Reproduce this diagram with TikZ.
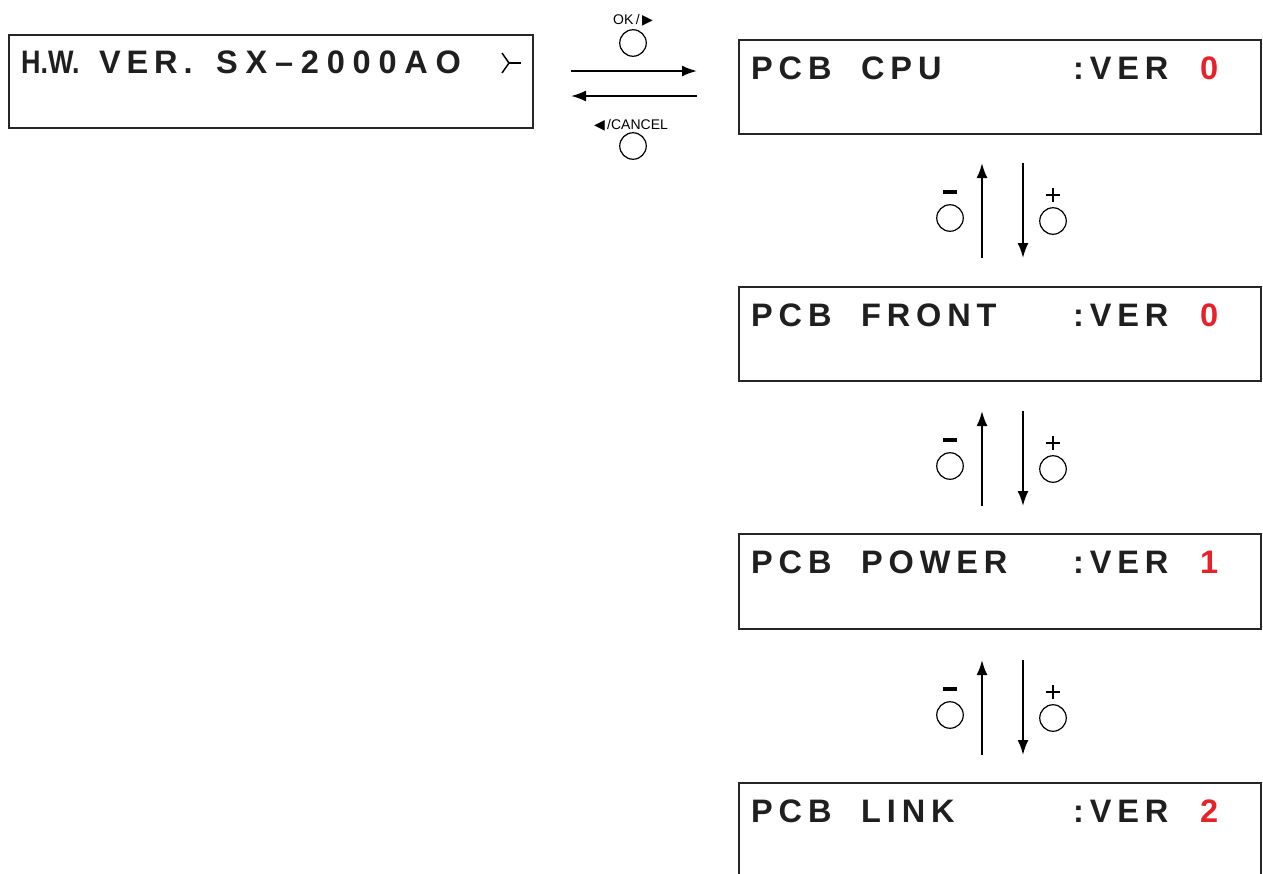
\documentclass[tikz,border=0pt]{standalone}
\usepackage{fontspec}
\setmainfont{Liberation Sans}
\newfontfamily\lcdfam[LetterSpace=18]{Liberation Sans}
\newfontfamily\lcdwide[LetterSpace=24]{Liberation Sans}
\newfontfamily\symfam{DejaVu Sans}
\usetikzlibrary{arrows.meta}
\definecolor{vred}{RGB}{232,32,42}
\tikzset{
  lcdbox/.style={draw, line width=1.8pt, draw=black!85},
  lcdtxt/.style={anchor=base west, inner sep=0pt, font=\lcdfam\bfseries\fontsize{32.5}{32.5}\selectfont, text=black!88},
  lcdnum/.style={lcdtxt, text=vred},
  btn/.style={draw, circle, line width=1.2pt, minimum size=26.5pt, inner sep=0pt},
  btnlbl/.style={inner sep=0pt, font=\fontsize{14}{14}\selectfont},
  navarrow/.style={line width=2pt, -{Latex[length=15pt,width=11pt]}},
  minusbar/.style={line width=3.2pt},
  plussign/.style={line width=1.6pt}
}
\begin{document}
\begin{tikzpicture}[x=1pt,y=-1pt]
\useasboundingbox (0,0) rectangle (1263,873);
% H.W. box
\draw[lcdbox] (9,35) rectangle (533,128);
\node[lcdtxt, font=\bfseries\fontsize{32.5}{32.5}\selectfont] (hw1) at (21,73) {\scalebox{0.83}[1]{H.W.}};
\node[lcdtxt] (hw2) at (99,73) {VER.};
\node[lcdtxt, font=\lcdwide\bfseries\fontsize{32.5}{32.5}\selectfont] (hw3) at (216,73) {SX–2000AO};
\coordinate (gt) at (509,63);
\draw[line width=1.5pt] (502,53) -- (gt) -- (502,73);
\draw[line width=1.5pt] (gt) -- (521,63);

% buttons top
\node[btnlbl] (oklbl) at (633,20) {OK{\,}/{\,}{\symfam\fontsize{14}{14}\selectfont▶}};
\node[btn] (okbtn) at (633,43) {};
\node[btnlbl] (cnlbl) at (631,125) {{\symfam\fontsize{14}{14}\selectfont◀}{\,}/CANCEL};
\node[btn] (cnbtn) at (633,146) {};
\coordinate (ra1) at (571,71);
\coordinate (ra2) at (697,71);
\coordinate (la1) at (697,96);
\coordinate (la2) at (571,96);
\draw[navarrow] (ra1) -- (ra2);
\draw[navarrow] (la1) -- (la2);

% PCB boxes
\foreach \n/\top/\word/\num in {cpu/40/CPU/0, front/287/FRONT/0, power/534/POWER/1, link/783/LINK/2}{
  \pgfmathsetmacro{\bl}{\top+39}
  \node[lcdtxt] (\n a) at (751,\bl) {PCB};
  \node[lcdtxt] (\n b) at (861,\bl) {\word};
  \node[lcdtxt] (\n c) at (1073,\bl) {:VER};
  \node[lcdnum] (\n d) at (1200,\bl) {\num};
}
\draw[lcdbox] (739,40) rectangle (1261,134);
\draw[lcdbox] (739,287) rectangle (1261,381);
\draw[lcdbox] (739,534) rectangle (1261,629);
\draw[lcdbox] (739,874) -- (739,783) -- (1261,783) -- (1261,874);

% vertical navigation
\foreach \i/\dy in {1/0, 2/248, 3/497}{
  \coordinate (up\i s) at (982,258+\dy);
  \coordinate (up\i e) at (982,163+\dy);
  \coordinate (dn\i s) at (1023,163+\dy);
  \coordinate (dn\i e) at (1023,258+\dy);
  \draw[navarrow] (up\i s) -- (up\i e);
  \draw[navarrow] (dn\i s) -- (dn\i e);
  \node[btn] (minus\i) at (950,218+\dy) {};
  \node[btn] (plus\i) at (1053,221+\dy) {};
  \draw[minusbar] (943,192+\dy) -- (957,192+\dy);
  \draw[plussign] (1046,195+\dy) -- (1060,195+\dy) (1053,188+\dy) -- (1053,202+\dy);
}
\end{tikzpicture}
\end{document}
